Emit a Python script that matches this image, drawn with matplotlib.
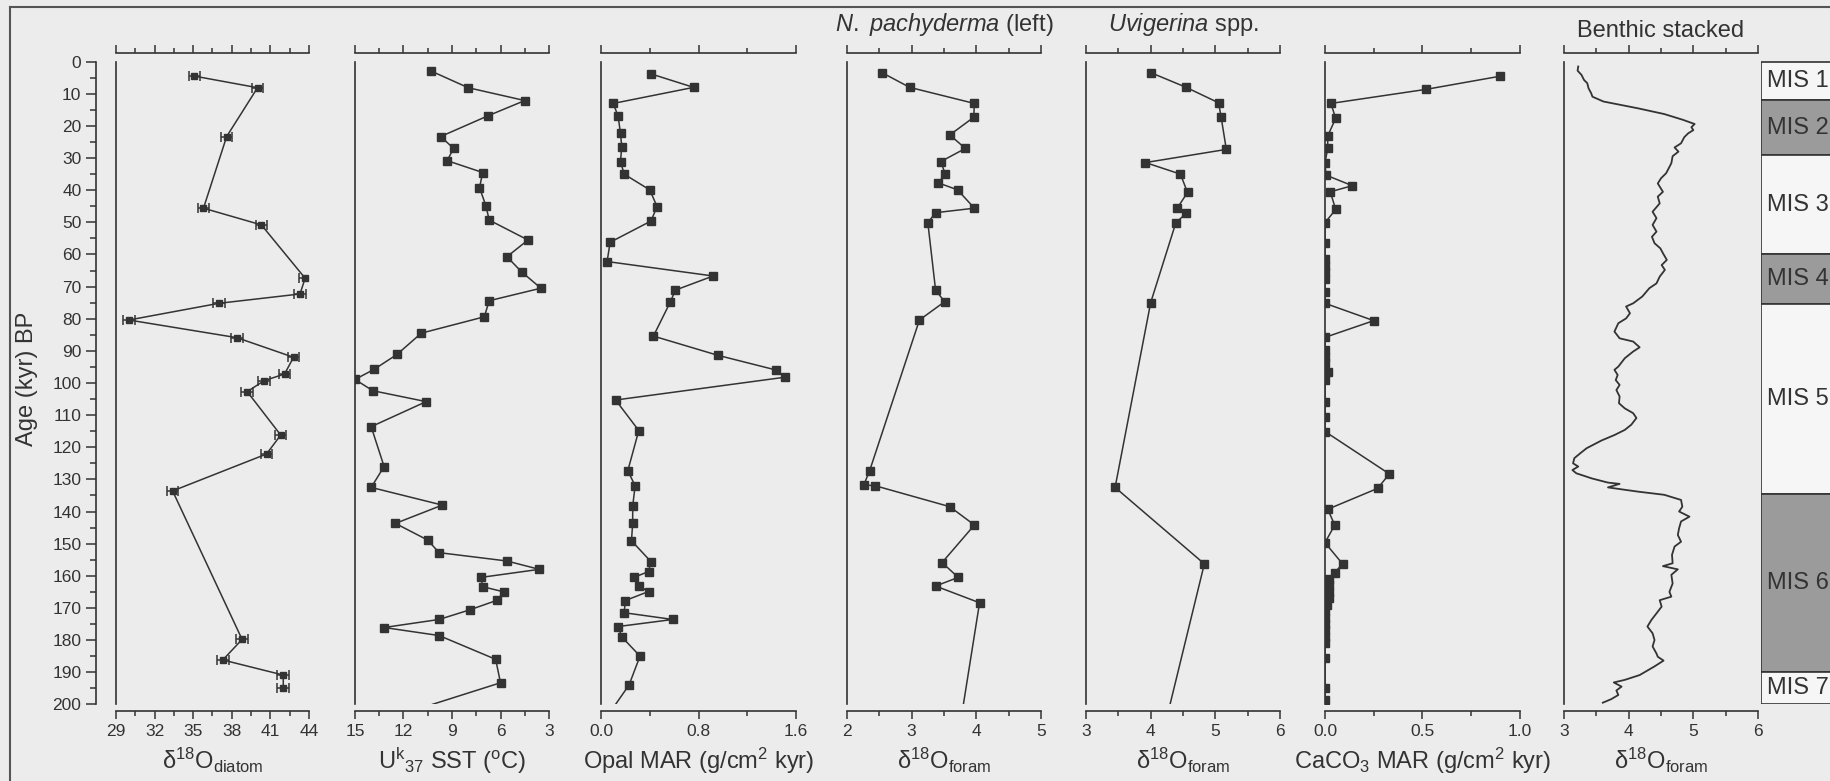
import matplotlib.pyplot as plt
from matplotlib.lines import Line2D
from matplotlib.ticker import MultipleLocator

plt.rcParams['font.family'] = ['Liberation Sans', 'DejaVu Sans']
plt.rcParams['mathtext.fontset'] = 'custom'
plt.rcParams['mathtext.rm'] = 'Liberation Sans'
plt.rcParams['mathtext.it'] = 'Liberation Sans:italic'
plt.rcParams['mathtext.bf'] = 'Liberation Sans:bold'

INK = '#333333'
BG = '#ececec'

# ---- data (age in kyr BP) ----
diatom_age = [4.5, 8.1, 23.3, 45.6, 50.8, 67.4, 72.3, 75.2, 80.4, 85.9, 92.0, 97.2,
              99.3, 102.7, 116.2, 122.1, 133.6, 179.8, 186.2, 190.9, 195.0]
diatom_d18o = [35.1, 40.0, 37.6, 35.8, 40.3, 43.7, 43.3, 37.0, 30.0, 38.4, 42.8, 42.1,
               40.5, 39.2, 41.8, 40.7, 33.4, 38.8, 37.3, 42.0, 42.0]
diatom_err = 0.45

sst_age = [2.9, 8.1, 12.1, 16.9, 23.3, 27.0, 30.8, 34.5, 39.2, 44.9, 49.3, 55.5, 60.7,
           65.4, 70.5, 74.4, 79.4, 84.5, 91.1, 95.7, 98.9, 102.4, 105.8, 113.6, 126.0,
           132.5, 138.0, 143.7, 148.9, 152.8, 155.4, 158.0, 160.5, 163.4, 165.0, 167.6,
           170.6, 173.6, 176.1, 178.6, 186.0, 193.3]
sst = [10.3, 8.0, 4.5, 6.8, 9.7, 8.9, 9.3, 7.1, 7.3, 6.9, 6.7, 4.3, 5.6,
       4.7, 3.5, 6.7, 7.0, 10.9, 12.4, 13.8, 15.0, 13.9, 10.6, 14.0, 13.2,
       14.0, 9.6, 12.5, 10.5, 9.8, 5.6, 3.6, 7.2, 7.1, 5.8, 6.2,
       7.9, 9.8, 13.2, 9.8, 6.3, 6.0]
sst_tail = (200.0, 10.2)

opal_age = [3.8, 8.0, 13.0, 16.9, 22.3, 26.4, 31.1, 35.0, 39.9, 45.1, 49.6, 56.2, 62.2,
            66.7, 71.1, 74.7, 85.4, 91.4, 96.0, 98.2, 105.3, 114.8, 127.3, 132.0, 138.3,
            143.7, 149.1, 155.6, 158.7, 160.5, 163.2, 164.9, 167.7, 171.5, 173.6, 175.8,
            179.0, 185.0, 194.0]
opal = [0.41, 0.76, 0.10, 0.14, 0.16, 0.17, 0.16, 0.19, 0.40, 0.46, 0.41, 0.075, 0.05,
        0.92, 0.61, 0.57, 0.43, 0.96, 1.44, 1.51, 0.12, 0.31, 0.22, 0.28, 0.26,
        0.26, 0.25, 0.41, 0.39, 0.27, 0.31, 0.39, 0.20, 0.19, 0.59, 0.14,
        0.17, 0.32, 0.23]
opal_tail = (200.0, 0.12)

npach_age = [3.4, 8.0, 13.0, 17.3, 22.8, 27.0, 31.1, 35.0, 37.7, 39.9, 45.6, 47.0, 50.1,
             71.1, 74.7, 80.4, 127.3, 131.7, 132.0, 138.5, 144.2, 155.9, 160.5, 163.2, 168.4]
npach = [2.54, 2.97, 3.97, 3.96, 3.59, 3.83, 3.45, 3.52, 3.41, 3.71, 3.97, 3.37, 3.25,
         3.37, 3.51, 3.12, 2.35, 2.26, 2.44, 3.59, 3.97, 3.47, 3.72, 3.37, 4.05]
npach_tail = (200.0, 3.80)

uvi_age = [3.4, 8.0, 12.8, 17.3, 27.3, 31.4, 35.0, 40.7, 45.6, 47.2, 50.1, 75.0, 132.5, 156.3]
uvi = [4.0, 4.55, 5.05, 5.09, 5.17, 3.92, 4.46, 4.57, 4.41, 4.55, 4.39, 4.0, 3.45, 4.83]
uvi_tail = (200.0, 4.30)

caco3_age = [4.5, 8.6, 13.0, 17.6, 23.1, 27.0, 31.4, 35.3, 38.6, 40.5, 46.0, 50.1, 56.5,
             61.5, 63.5, 65.5, 67.5, 71.6, 75.2, 80.6, 85.8, 89.7, 91.8, 93.9, 96.5, 99.0,
             105.8, 110.5, 115.1, 128.3, 132.8, 139.3, 144.2, 149.7, 156.3, 159.0,
             161.0, 163.0, 165.0, 167.0, 169.0, 171.0, 173.0, 175.0, 177.0, 179.0, 181.0,
             185.7, 195.0, 198.6]
caco3 = [0.90, 0.52, 0.03, 0.055, 0.014, 0.014, 0.0, 0.005, 0.14, 0.027, 0.055, 0.0, 0.0,
         0.0, 0.0, 0.0, 0.0, 0.0, 0.0, 0.25, 0.0, 0.0, 0.0, 0.0, 0.014, 0.0,
         0.0, 0.0, 0.0, 0.33, 0.27, 0.014, 0.05, 0.0, 0.09, 0.05,
         0.02, 0.02, 0.02, 0.02, 0.01, 0.0, 0.0, 0.0, 0.0, 0.0, 0.0,
         0.0, 0.0, 0.0]

benthic_age = [1.5, 2.8, 4.1, 5.7, 6.7, 8.3, 9.8, 10.9, 12.4, 14.5, 16.3, 18.1, 19.4,
               20.4, 21.3, 22.3, 23.5, 25.4, 26.7, 28.0, 29.4, 31.6, 34.7, 36.3, 37.9,
               40.5, 42.0, 44.1, 46.7, 48.7, 50.8, 52.9, 54.5, 56.5, 58.1, 59.6, 61.7,
               63.3, 64.8, 66.9, 69.0, 70.5, 73.1, 75.2, 76.2, 78.3, 79.9, 81.4, 84.0,
               86.1, 87.1, 88.9, 90.2, 92.3, 94.9, 95.9, 97.5, 99.1, 100.6, 102.2, 104.2,
               106.3, 107.9, 109.4, 110.9, 113.0, 114.6, 116.2, 117.9, 120.3, 121.9,
               123.4, 125.0, 126.0, 127.1, 128.1, 129.7, 131.0, 131.4, 132.5, 133.8,
               134.8, 136.4, 138.5, 140.0, 141.6, 143.1, 145.2, 147.3, 149.4, 150.9,
               153.5, 156.1, 157.0, 158.0, 159.7, 162.4, 165.0, 166.5, 167.6, 169.6,
               171.7, 173.8, 175.8, 177.9, 180.0, 182.0, 184.2, 185.2, 186.4, 188.2,
               190.9, 192.4, 193.2, 194.5, 195.7, 197.1, 198.4, 199.5]
benthic = [3.22, 3.21, 3.27, 3.31, 3.36, 3.38, 3.42, 3.44, 3.61, 4.14, 4.55, 4.84, 5.02,
           4.97, 5.00, 4.92, 4.86, 4.81, 4.71, 4.77, 4.68, 4.66, 4.58, 4.50, 4.45,
           4.53, 4.45, 4.48, 4.37, 4.43, 4.37, 4.43, 4.36, 4.40, 4.49, 4.53, 4.59,
           4.51, 4.56, 4.48, 4.43, 4.32, 4.21, 4.07, 3.96, 4.02, 3.96, 3.84, 3.78,
           3.86, 4.07, 4.17, 4.07, 3.94, 3.84, 3.78, 3.83, 3.80, 3.86, 3.81, 3.86,
           3.85, 3.94, 4.07, 4.12, 4.04, 3.94, 3.78, 3.58, 3.35, 3.25,
           3.16, 3.14, 3.22, 3.13, 3.19, 3.43, 3.68, 3.86, 3.68, 4.14,
           4.55, 4.81, 4.83, 4.78, 4.94, 4.81, 4.78, 4.76, 4.81, 4.71,
           4.67, 4.68, 4.53, 4.76, 4.66, 4.68, 4.63, 4.66, 4.48, 4.51,
           4.43, 4.35, 4.29, 4.37, 4.40, 4.37, 4.43, 4.45, 4.54, 4.40,
           4.17, 3.94, 3.77, 3.89, 3.81, 3.84, 3.73, 3.60]

mis_labels = ['MIS 1', 'MIS 2', 'MIS 3', 'MIS 4', 'MIS 5', 'MIS 6', 'MIS 7']
mis_bounds = [0, 12, 29, 60, 75.5, 134.5, 190, 200]
mis_glacial = [False, True, False, True, False, True, False]

# ---- figure ----
W, H = 1831, 781
fig = plt.figure(figsize=(W / 100, H / 100), dpi=100, facecolor=BG)
YLIM = (200, -2.7)
TOP, BOT = 53, 704.3


def px_axes(x0, x1):
    return fig.add_axes([x0 / W, 1 - BOT / H, (x1 - x0) / W, (BOT - TOP) / H])


def style_panel(ax, xlim, major, minor, xlabel, offset=0.0):
    ax.set_facecolor('none')
    ax.set_xlim(*xlim)
    ax.set_ylim(*YLIM)
    ax.spines['right'].set_visible(False)
    ax.spines['left'].set_bounds(0, 200)
    ax.spines['bottom'].set_position(('outward', 4.5))
    for s in ax.spines.values():
        s.set_color(INK)
        s.set_linewidth(1.2)
    ax.xaxis.set_major_locator(MultipleLocator(major, offset=offset))
    ax.xaxis.set_minor_locator(MultipleLocator(minor, offset=offset))
    ax.tick_params(axis='x', which='both', top=True, bottom=True, labeltop=False,
                   direction='out', color=INK, labelcolor=INK, labelsize=12.5, width=1.1)
    ax.tick_params(axis='x', which='major', length=6)
    ax.tick_params(axis='x', which='minor', length=3.5)
    ax.set_yticks([])
    ax.set_xlabel(xlabel, fontsize=17, color=INK, labelpad=5)


line_kw = dict(color=INK, lw=1.1)
mark_kw = dict(color=INK, lw=1.1, marker='s', ms=6.3, mec=INK, mfc=INK)

# age scale
age_ax = px_axes(96, 97)
age_ax.set_facecolor('none')
age_ax.set_ylim(*YLIM)
for s in ('top', 'right', 'bottom'):
    age_ax.spines[s].set_visible(False)
age_ax.spines['left'].set_bounds(0, 200)
age_ax.spines['left'].set_color(INK)
age_ax.spines['left'].set_linewidth(1.2)
age_ax.set_xticks([])
age_ax.yaxis.set_major_locator(MultipleLocator(10))
age_ax.yaxis.set_minor_locator(MultipleLocator(5))
age_ax.tick_params(axis='y', which='both', color=INK, labelcolor=INK, labelsize=12.5, width=1.1)
age_ax.tick_params(axis='y', which='major', length=7)
age_ax.tick_params(axis='y', which='minor', length=4)
age_ax.set_ylabel('Age (kyr) BP', fontsize=17, color=INK, labelpad=10)

# 1 diatom
ax1 = px_axes(116, 309)
style_panel(ax1, (29, 44), 3, 1.5, 'δ$^{18}$O$_{\\mathrm{diatom}}$', offset=29)
ax1.errorbar(diatom_d18o, diatom_age, xerr=diatom_err, fmt='-s', color=INK, ms=4.5,
             lw=1.1, elinewidth=1.1, capsize=3.5, capthick=1.1)

# 2 SST
ax2 = px_axes(355, 549)
style_panel(ax2, (15, 3), 3, 1.5, 'U$^{\\mathrm{k}}$$_{37}$ SST ($^{\\mathrm{o}}$C)')
ax2.plot([sst[-1], sst_tail[1]], [sst_age[-1], sst_tail[0]], **line_kw)
ax2.plot(sst, sst_age, **mark_kw)

# 3 opal
ax3 = px_axes(601, 796)
style_panel(ax3, (0, 1.6), 0.8, 0.4, 'Opal MAR (g/cm$^{2}$ kyr)')
ax3.plot([opal[-1], opal_tail[1]], [opal_age[-1], opal_tail[0]], **line_kw)
ax3.plot(opal, opal_age, **mark_kw)

# 4 N. pachyderma
ax4 = px_axes(847, 1041)
style_panel(ax4, (2, 5), 1, 0.5, 'δ$^{18}$O$_{\\mathrm{foram}}$')
ax4.plot([npach[-1], npach_tail[1]], [npach_age[-1], npach_tail[0]], **line_kw)
ax4.plot(npach, npach_age, **mark_kw)

# 5 Uvigerina
ax5 = px_axes(1086, 1280)
style_panel(ax5, (3, 6), 1, 0.5, 'δ$^{18}$O$_{\\mathrm{foram}}$')
ax5.plot([uvi[-1], uvi_tail[1]], [uvi_age[-1], uvi_tail[0]], **line_kw)
ax5.plot(uvi, uvi_age, **mark_kw)

# 6 CaCO3
ax6 = px_axes(1325, 1520)
style_panel(ax6, (0, 1.0), 0.5, 0.25, 'CaCO$_{3}$ MAR (g/cm$^{2}$ kyr)')
ax6.plot(caco3, caco3_age, **mark_kw)

# 7 benthic stack
ax7 = px_axes(1564, 1758)
style_panel(ax7, (3, 6), 1, 0.5, 'δ$^{18}$O$_{\\mathrm{foram}}$')
ax7.plot(benthic, benthic_age, color=INK, lw=1.3)

# titles
fig.text(944 / W, 1 - 24 / H, '$\\mathit{N.\\ pachyderma}$ (left)', ha='center', va='center',
         fontsize=17, color=INK)
fig.text(1183 / W, 1 - 25 / H, '$\\mathit{Uvigerina}$ spp.', ha='center', va='center',
         fontsize=17, color=INK)
fig.text(1661 / W, 1 - 31 / H, 'Benthic stacked', ha='center', va='center',
         fontsize=17, color=INK)

# MIS column
mis_ax = px_axes(1761, 1880)
mis_ax.set_xlim(0, 1)
mis_ax.set_ylim(*YLIM)
mis_ax.axis('off')
for i, lab in enumerate(mis_labels):
    top, bot = mis_bounds[i], mis_bounds[i + 1]
    fc = '#9b9b9b' if mis_glacial[i] else '#f6f6f6'
    mis_ax.axhspan(top, bot, facecolor=fc, edgecolor=INK, lw=1.2)
    mis_ax.text(0.05, (top + bot) / 2, lab, ha='left', va='center', fontsize=17, color=INK)

# page frame
fig.add_artist(Line2D([10 / W, 1], [1 - 7 / H, 1 - 7 / H], transform=fig.transFigure,
                      color='#555555', lw=1.5))
fig.add_artist(Line2D([10 / W, 10 / W], [0, 1 - 7 / H], transform=fig.transFigure,
                      color='#555555', lw=1.5))

fig.savefig('out.png', dpi=100, facecolor=BG)
